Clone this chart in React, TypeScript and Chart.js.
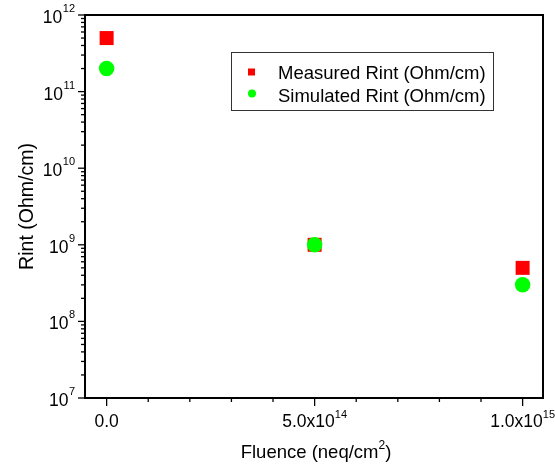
import React, { useEffect, useRef } from "react";
import { Chart, registerables } from "chart.js";

Chart.register(...registerables);

// ---- data ----
const fluence = [0, 5e14, 1e15];
const measuredRint = [5e11, 1e9, 5e8];
const simulatedRint = [2e11, 1e9, 3e8];
const seriesLabels = ["Measured Rint (Ohm/cm)", "Simulated Rint (Ohm/cm)"];
const seriesColors = ["#ff0000", "#00ff00"];

const xTickValues = [0, 5e14, 1e15];
const xTickMantissas = ["0.0", "5.0x10", "1.0x10"];
const xTickExponents = ["", "14", "15"];
const xMinorStep = 1e14;
const yDecades = [7, 8, 9, 10, 11, 12];
const yMinorFactors = [2, 3, 4, 5, 6, 7, 8, 9];

const xTitleMain = "Fluence (neq/cm";
const xTitleSup = "2";
const xTitleEnd = ")";
const yTitle = "Rint (Ohm/cm)";

const FONT = "'Liberation Sans', Arial, sans-serif";

const decor = {
  id: "decor",
  beforeDatasetsDraw(chart: any) {
    const { ctx, chartArea: a, scales } = chart;
    const xs = scales.x;
    const ys = scales.y;
    ctx.save();
    ctx.strokeStyle = "#000";
    ctx.lineWidth = 1.3;
    const seg = (x1: number, y1: number, x2: number, y2: number) => {
      ctx.beginPath();
      ctx.moveTo(x1, y1);
      ctx.lineTo(x2, y2);
      ctx.stroke();
    };
    yDecades.forEach((d, i) => {
      const py = ys.getPixelForValue(Math.pow(10, d));
      seg(a.left - 7, py, a.left, py);
      if (i < yDecades.length - 1) {
        yMinorFactors.forEach((k) => {
          const pm = ys.getPixelForValue(k * Math.pow(10, d));
          seg(a.left - 4, pm, a.left, pm);
        });
      }
    });
    for (let v = 0; v <= xTickValues[xTickValues.length - 1] + 1; v += xMinorStep) {
      const px = xs.getPixelForValue(v);
      const major = xTickValues.some((t) => Math.abs(t - v) < xMinorStep / 10);
      seg(px, a.bottom, px, a.bottom + (major ? 8 : 4));
    }
    ctx.lineWidth = 2;
    ctx.strokeRect(a.left, a.top, a.right - a.left, a.bottom - a.top);
    ctx.restore();
  },
  afterDraw(chart: any) {
    const { ctx, chartArea: a, scales } = chart;
    const xs = scales.x;
    const ys = scales.y;
    ctx.save();
    ctx.fillStyle = "#000";
    ctx.textBaseline = "alphabetic";

    // y tick labels: 10^n
    yDecades.forEach((d) => {
      const py = ys.getPixelForValue(Math.pow(10, d));
      const right = a.left - 10;
      ctx.font = `11px ${FONT}`;
      ctx.textAlign = "right";
      const exp = String(d);
      const ew = ctx.measureText(exp).width;
      ctx.fillText(exp, right, py - 3);
      ctx.font = `17.5px ${FONT}`;
      ctx.fillText("10", right - ew - 0.5, py + 8);
    });

    // x tick labels
    xTickValues.forEach((v, i) => {
      const px = xs.getPixelForValue(v);
      ctx.font = `17.5px ${FONT}`;
      const mw = ctx.measureText(xTickMantissas[i]).width;
      ctx.font = `11px ${FONT}`;
      const ew = ctx.measureText(xTickExponents[i]).width;
      const start = px - (mw + ew) / 2;
      ctx.textAlign = "left";
      ctx.font = `17.5px ${FONT}`;
      ctx.fillText(xTickMantissas[i], start, a.bottom + 29);
      ctx.font = `11px ${FONT}`;
      ctx.fillText(xTickExponents[i], start + mw, a.bottom + 20);
    });

    // x title
    ctx.font = `18.5px ${FONT}`;
    const w1 = ctx.measureText(xTitleMain).width;
    const w3 = ctx.measureText(xTitleEnd).width;
    ctx.font = `12px ${FONT}`;
    const w2 = ctx.measureText(xTitleSup).width;
    const cx = (a.left + a.right) / 2 + 2;
    const sx = cx - (w1 + w2 + w3) / 2;
    ctx.textAlign = "left";
    ctx.font = `18.5px ${FONT}`;
    ctx.fillText(xTitleMain, sx, 458);
    ctx.font = `12px ${FONT}`;
    ctx.fillText(xTitleSup, sx + w1, 449);
    ctx.font = `18.5px ${FONT}`;
    ctx.fillText(xTitleEnd, sx + w1 + w2, 458);

    // y title
    ctx.save();
    ctx.translate(33, (a.top + a.bottom) / 2);
    ctx.rotate(-Math.PI / 2);
    ctx.textAlign = "center";
    ctx.font = `19.5px ${FONT}`;
    ctx.fillText(yTitle, 0, 0);
    ctx.restore();

    // legend
    ctx.strokeStyle = "#333";
    ctx.lineWidth = 1;
    ctx.strokeRect(231.5, 52.5, 262, 58);
    ctx.textAlign = "left";
    ctx.fillStyle = seriesColors[0];
    ctx.fillRect(248, 68.5, 7, 7);
    ctx.fillStyle = seriesColors[1];
    ctx.beginPath();
    ctx.arc(252, 93.5, 4, 0, Math.PI * 2);
    ctx.fill();
    ctx.fillStyle = "#000";
    ctx.font = `18.5px ${FONT}`;
    ctx.fillText(seriesLabels[0], 278, 79);
    ctx.fillText(seriesLabels[1], 278, 102);
    ctx.restore();
  },
};

export default function App() {
  const ref = useRef<HTMLCanvasElement | null>(null);
  useEffect(() => {
    if (!ref.current) return;
    const chart = new Chart(ref.current, {
      type: "scatter",
      data: {
        datasets: [
          {
            label: seriesLabels[1],
            data: fluence.map((x, i) => ({ x, y: simulatedRint[i] })),
            pointStyle: "circle",
            pointRadius: 7.75,
            pointBackgroundColor: seriesColors[1],
            pointBorderWidth: 0,
            borderWidth: 0,
            order: 1,
          },
          {
            label: seriesLabels[0],
            data: fluence.map((x, i) => ({ x, y: measuredRint[i] })),
            pointStyle: "rect",
            pointRadius: 9.9,
            pointBackgroundColor: seriesColors[0],
            pointBorderWidth: 0,
            borderWidth: 0,
            order: 2,
          },
        ],
      },
      options: {
        responsive: false,
        animation: false,
        events: [],
        layout: { padding: { left: 85, right: 12, top: 15, bottom: 70 } },
        plugins: { legend: { display: false }, tooltip: { enabled: false } },
        scales: {
          x: { type: "linear", min: -5.2e13, max: 1.049e15, display: false },
          y: { type: "logarithmic", min: 1e7, max: 1e12, display: false },
        },
      },
      plugins: [decor],
    });
    return () => chart.destroy();
  }, []);
  return (
    <div style={{ position: "absolute", left: 0, top: 0, width: 555, height: 468, background: "#fff" }}>
      <canvas ref={ref} width={555} height={468} />
    </div>
  );
}
